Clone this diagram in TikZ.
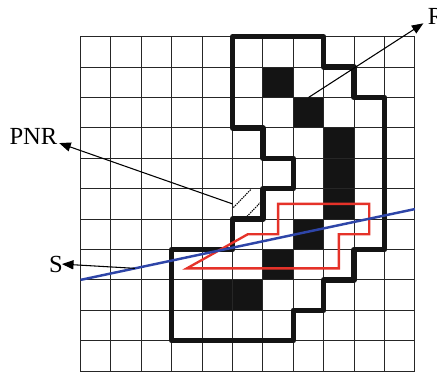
\documentclass[tikz,border=0pt]{standalone}
\usepackage{fontspec}
\setmainfont{Liberation Serif}
\usetikzlibrary{arrows.meta}
\definecolor{rline}{HTML}{E53229}
\definecolor{bline}{HTML}{2E45A8}
\tikzset{
  gridline/.style={draw=black!85, line width=0.8pt},
  blackcell/.style={fill=black!92, draw=none},
  outline/.style={draw=black!92, line width=5pt, line join=round, line cap=round},
  redpoly/.style={draw=rline, line width=2.2pt, line join=miter},
  blueline/.style={draw=bline, line width=2.3pt},
  hatch/.style={draw=black, line width=1pt, dash pattern=on 1.3pt off 0.9pt},
  arr/.style={draw=black, line width=1pt, -{Triangle[length=3.8mm,width=3mm]}},
  lab/.style={inner sep=0pt, font=\fontsize{23}{27}\selectfont}
}
\begin{document}
\begin{tikzpicture}[x=1cm,y=1cm]
\useasboundingbox (-2.648,0) rectangle (11.727,12.207);
% black cells
\fill[blackcell] (6,9) rectangle (7,10);
\fill[blackcell] (7,8) rectangle (8,9);
\fill[blackcell] (8,5) rectangle (9,8);
\fill[blackcell] (7,4) rectangle (8,5);
\fill[blackcell] (6,3) rectangle (7,4);
\fill[blackcell] (4,2) rectangle (6,3);
% grid
\draw[gridline] (0,0) grid (11,11);
% hatched PNR cell
\draw[hatch] (5.03,5.38) -- (5.6,5.97);
\draw[hatch] (5.42,5.03) -- (5.97,5.6);
% thick region outline
\draw[outline] (5,11) -- (8,11) -- (8,10) -- (9,10) -- (9,9) -- (10,9) -- (10,4)
  -- (9,4) -- (9,3) -- (8,3) -- (8,2) -- (7,2) -- (7,1) -- (3,1) -- (3,4)
  -- (5,4) -- (5,5) -- (6,5) -- (6,6) -- (7,6) -- (7,7) -- (6,7) -- (6,8)
  -- (5,8) -- cycle;
% red polygon
\draw[redpoly] (3.5,3.38) -- (5.5,4.5) -- (6.5,4.5) -- (6.5,5.5) -- (9.5,5.5)
  -- (9.5,4.5) -- (8.5,4.5) -- (8.5,3.38) -- cycle;
% blue line
\coordinate (sa) at (0,3);
\coordinate (sb) at (11,5.33);
\draw[blueline] (sa) -- (sb);
% labels
\node[lab, anchor=base west] (R) at (11.42,11.385) {R};
\node[lab, anchor=base west] (PNR) at (-2.34,7.44) {PNR};
\node[lab, anchor=base west] (S) at (-1.04,3.23) {S};
% arrows
\coordinate (rstart) at (7.5,9);
\coordinate (rtip) at (11.28,11.44);
\coordinate (pstart) at (5,5.5);
\coordinate (ptip) at (-0.7,7.5);
\coordinate (sstart) at (1.79,3.38);
\coordinate (stip) at (-0.61,3.52);
\draw[arr] (rstart) -- (rtip);
\draw[arr] (pstart) -- (ptip);
\draw[arr] (sstart) -- (stip);
\end{tikzpicture}
\end{document}
